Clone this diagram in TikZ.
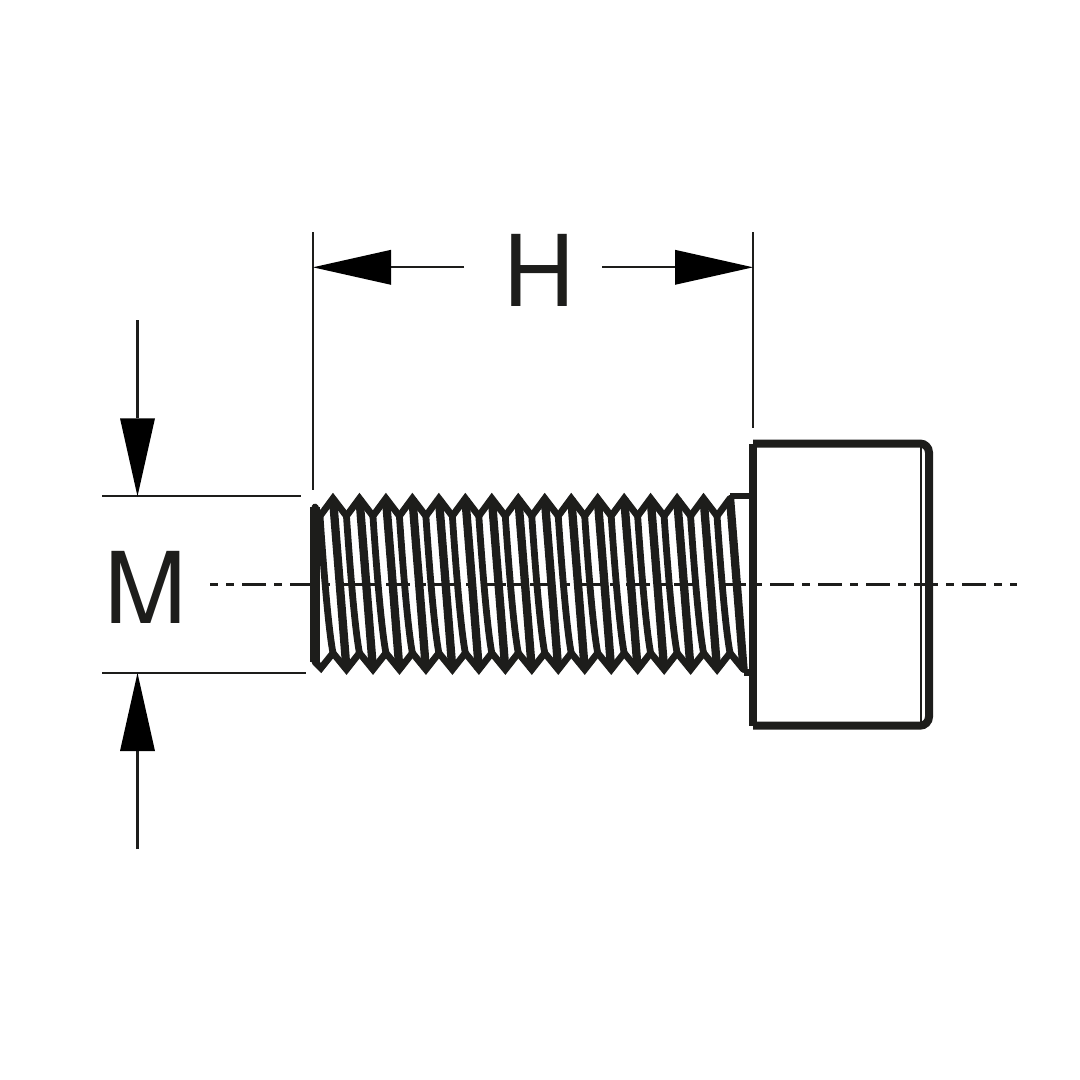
\documentclass[tikz,border=0pt]{standalone}
\usepackage{fontspec}
\setmainfont{TeX Gyre Heros}
\usetikzlibrary{arrows.meta}
\definecolor{ink}{HTML}{1D1D1B}
\tikzset{
  thin line/.style={draw=ink,line width=2.2pt},
  center line/.style={draw=ink,line width=2.2pt,dash pattern=on 24pt off 8pt on 8pt off 8pt,dash phase=16pt},
  crest line/.style={draw=ink,line width=8.3pt},
  zig line/.style={draw=ink,line width=6.8pt,line join=miter,miter limit=6,line cap=round},
  root line/.style={draw=ink,line width=6.8pt},
  head line/.style={draw=ink,line width=8pt},
  big tip/.style={-{Triangle[length=78pt,width=35pt,line width=0pt,color=black]}},
  dim label/.style={text=ink,font=\fontsize{99pt}{99pt}\selectfont,inner sep=0pt}
}
\begin{document}
\begin{tikzpicture}[x=1pt,y=-1pt]
      \useasboundingbox (0,0) rectangle (1080,1080);
      % dimension H
      \coordinate (h1) at (313,232);
      \coordinate (h2) at (313,490);
      \coordinate (h3) at (753,232);
      \coordinate (h4) at (753,428);
      \coordinate (hl) at (313,267.3);
      \coordinate (hr) at (753,267.3);
      \node[dim label] (H) at (539.3,270) {H};
      \coordinate (hl2) at (464,267.3);
      \coordinate (hr2) at (602,267.3);
      \path[thin line] (h1) -- (h2);
      \path[thin line] (h3) -- (h4);
      \draw[thin line,big tip] (hl2) -- (hl);
      \draw[thin line,big tip] (hr2) -- (hr);
      % dimension M
      \node[dim label] (M) at (146,587.3) {M};
      \coordinate (m1) at (102,496.3);
      \coordinate (m2) at (301,496.3);
      \coordinate (m3) at (102,673);
      \coordinate (m4) at (306,673);
      \coordinate (mt) at (137.5,320);
      \coordinate (mta) at (137.5,496.3);
      \coordinate (mb) at (137.5,849);
      \coordinate (mba) at (137.5,673);
      \path[thin line] (m1) -- (m2);
      \path[thin line] (m3) -- (m4);
      \draw[thin line,big tip] (mt) -- (mta);
      \draw[thin line,big tip] (mb) -- (mba);
      % axis
      \coordinate (a1) at (210,584.5);
      \coordinate (a2) at (1017,584.5);
      \path[center line] (a1) -- (a2);
      % thread
      \foreach \i in {0,...,15} {
        \pgfmathsetmacro{\xa}{333+26.47*\i}
        \coordinate (c\i) at (\xa,498.4);
        \coordinate (d\i) at ({\xa+13.5},669.5);
        \coordinate (r\i) at ({\xa-13},516);
        \coordinate (s\i) at (\xa,653);
        \path[crest line] (c\i) -- (d\i);
        \path[root line] (r\i) .. controls ({\xa-8},590) and ({\xa-3.5},635) .. (s\i);
      }
      \foreach \i in {0,...,14} {
        \pgfmathtruncatemacro{\j}{\i+1}
        \path[zig line] (r\i) -- (c\i) -- (r\j);
        \path[zig line] (s\i) -- (d\i) -- (s\j);
      }
      % thread ends
      \coordinate (e1) at (315,507);
      \coordinate (e2) at (315,662);
      \coordinate (e3) at (321,668);
      \coordinate (t1) at (752,496);
      \coordinate (t2) at (752,672.7);
      \path[head line,line width=10pt] (e1) -- (e2);
      \path[zig line] (e2) -- (e3) -- (s0);
      \path[zig line] (e1) -- (r0);
      \path[zig line] (r15) -- (c15);
      \path[zig line] (s15) -- (d15);
      \path[root line] (c15 |- t1) -- (t1);
      \path[root line] (d15 |- t2) -- (t2);
      % head
      \coordinate (b1) at (753,443.5);
      \coordinate (b2) at (929,443.5);
      \coordinate (b3) at (929,725.7);
      \coordinate (b4) at (753,725.7);
      \coordinate (b5) at (921,443.5);
      \coordinate (b6) at (921,725.7);
      \path[head line,rounded corners=9pt] (b1) -- (b2) -- (b3) -- (b4);
      \path[head line] (b1) -- (b4);
      \path[thin line] (b5) -- (b6);
    \end{tikzpicture}
\end{document}
